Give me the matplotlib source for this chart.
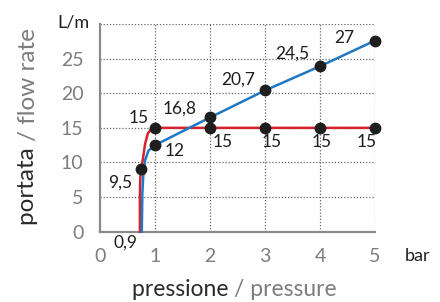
import matplotlib
matplotlib.use('Agg')
import matplotlib.pyplot as plt

plt.rcParams['font.family'] = ['Lato', 'DejaVu Sans']

# flow curves (pressure in bar, flow in L/m)
redX = [0.725, 0.725, 0.73, 0.735, 0.75, 0.78, 0.82, 0.87, 0.93, 1.0, 2, 3, 4, 5]
redY = [0, 5, 7, 8, 9.1, 10.5, 12.7, 14.2, 14.8, 15, 15, 15, 15, 15]
blueX = [0.76, 0.77, 0.785, 0.82, 0.88, 1.0, 2, 3, 4, 5]
blueY = [0, 5.5, 7.9, 10.3, 11.7, 12.5, 16.5, 20.4, 23.9, 27.6]

# marked points
blueDotsX = [1, 2, 3, 4, 5]
blueDotsY = [12.5, 16.5, 20.4, 23.9, 27.6]
redDotsX = [0.75, 1, 2, 3, 4, 5]
redDotsY = [9.1, 15, 15, 15, 15, 15]

blueLabels = ['12', '16,8', '20,7', '24,5', '27']
redLabels = ['9,5', '15', '15', '15', '15', '15']

xTicks = [0, 1, 2, 3, 4, 5]
yTicks = [0, 5, 10, 15, 20, 25]

grey = '#7d7d7d'
red = '#d3232e'
blue = '#1f78c4'
ink = '#1e1e1e'

fig = plt.figure(figsize=(4.4, 3.02), dpi=100)
ax = fig.add_axes([100 / 440, 1 - 231.7 / 302, 275 / 440, 207.7 / 302])

ax.set_xlim(0, 5)
ax.set_ylim(0, 30)

# dotted grid, including the top and right edges
for x in [1, 2, 3, 4, 5]:
    ax.axvline(x, color='#666666', lw=0.9, ls=(0, (1, 1.5)), zorder=1)
for y in [5, 10, 15, 20, 25, 30]:
    ax.axhline(y, color='#666666', lw=0.9, ls=(0, (1, 1.5)), zorder=1)

ax.plot(redX, redY, color=red, lw=1.8, zorder=3, clip_on=False)
ax.plot(blueX, blueY, color=blue, lw=1.8, zorder=3, clip_on=False)
ax.plot(blueDotsX, blueDotsY, 'o', color=ink, ms=7.5, zorder=4, clip_on=False)
ax.plot(redDotsX, redDotsY, 'o', color=ink, ms=7.5, zorder=4, clip_on=False)

# value labels
blueOffsets = [(14, -4), (-22, 6.5), (-19, 8), (-20, 9), (-22, 2)]
for x, y, t, off in zip(blueDotsX, blueDotsY, blueLabels, blueOffsets):
    ax.annotate(t, (x, y), xytext=off, textcoords='offset points',
                ha='center', va='center', fontsize=12.5, color=ink)
redOffsets = [(-15, -10), (-11.5, 7), (9, -10), (4.5, -10), (1.5, -10), (-6, -10)]
for x, y, t, off in zip(redDotsX, redDotsY, redLabels, redOffsets):
    ax.annotate(t, (x, y), xytext=off, textcoords='offset points',
                ha='center', va='center', fontsize=12.5, color=ink)
ax.annotate('0,9', (0.75, 0), xytext=(-11, -8), textcoords='offset points',
            ha='center', va='center', fontsize=12.5, color=ink)

ax.set_xticks(xTicks)
ax.set_yticks(yTicks)
ax.tick_params(length=0, labelsize=14, labelcolor=grey)
ax.tick_params(axis='x', pad=12)
ax.tick_params(axis='y', pad=12)

for s in ['top', 'right']:
    ax.spines[s].set_visible(False)
for s in ['left', 'bottom']:
    ax.spines[s].set_color('#8a8a8a')
    ax.spines[s].set_linewidth(1.6)

fig.text(73 / 440, 1 - 22 / 302, 'L/m', ha='center', va='center', fontsize=13, color=ink)
fig.text(418 / 440, 1 - 256 / 302, 'bar', ha='center', va='center', fontsize=13, color=ink)

# two-tone axis titles
fig.text(234 / 440, 1 - 289 / 302, 'pressione ', ha='right', va='center', fontsize=16.5, color='#2a2a2a')
fig.text(234 / 440, 1 - 289 / 302, '/ pressure', ha='left', va='center', fontsize=16.5, color=grey)
fig.text(28 / 440, 1 - 141 / 302, 'portata ', ha='center', va='top', rotation=90, fontsize=17.5, color='#2a2a2a')
fig.text(28 / 440, 1 - 141 / 302, '/ flow rate', ha='center', va='bottom', rotation=90, fontsize=17.5, color=grey)

fig.savefig('out.png', dpi=100)
